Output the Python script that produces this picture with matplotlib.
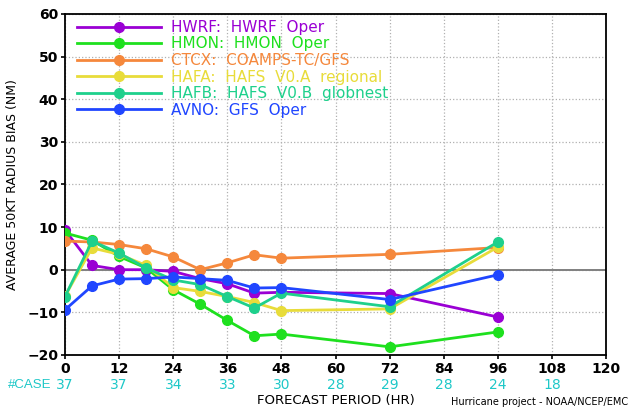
import numpy as np
import matplotlib.pyplot as plt

# forecast hours and bias values (NM) per model
hours = [0, 6, 12, 18, 24, 30, 36, 42, 48, 72, 96]
hwrf = [9.3, 1.0, 0.0, 0.0, -0.4, -2.1, -3.3, -5.5, -5.3, -5.6, -11.1]
hmon = [8.6, 6.9, 3.1, 0.4, -4.7, -8.1, -11.9, -15.5, -15.1, -18.1, -14.6]
ctcx = [6.7, 6.5, 5.9, 4.9, 3.0, 0.0, 1.6, 3.5, 2.7, 3.6, 5.2]
hafa = [-6.2, 5.1, 3.6, 1.0, -4.2, -5.1, -6.3, -7.7, -9.6, -9.2, 5.3]
hafb = [-6.3, 6.7, 3.9, 0.4, -2.4, -3.5, -6.3, -9.0, -5.5, -8.7, 6.5]
avno = [-9.4, -3.8, -2.2, -2.1, -1.7, -2.1, -2.5, -4.3, -4.2, -7.0, -1.2]

labels = ['HWRF:  HWRF  Oper', 'HMON:  HMON  Oper', 'CTCX:  COAMPS-TC/GFS',
          'HAFA:  HAFS  V0.A  regional', 'HAFB:  HAFS  V0.B  globnest', 'AVNO:  GFS  Oper']
colors = ['#9a00d4', '#1ee01e', '#f5883c', '#e8dc3a', '#1ed08c', '#2046ff']

case_hours = [0, 12, 24, 36, 48, 60, 72, 84, 96, 108]
case_counts = [37, 37, 34, 33, 30, 28, 29, 28, 24, 18]

fig = plt.figure(figsize=(6.28, 4.08), dpi=100)
ax = fig.add_axes([0.1035, 0.130, 0.8615, 0.836])

series = [hwrf, hmon, ctcx, hafa, hafb, avno]
for vals, lab, c in zip(series, labels, colors):
    ax.plot(hours, vals, '-o', color=c, lw=2.0, ms=7, label=lab, zorder=3)

ax.axhline(0, color='#808080', lw=1.4, zorder=2)
ax.set_xlim(0, 120)
ax.set_ylim(-20, 60)
ax.set_xticks(range(0, 121, 12))
ax.set_yticks(range(-20, 61, 10))
ax.grid(True, ls=':', color='#b0b0b0', lw=0.9)
ax.tick_params(direction='out', length=3, width=1.2, labelsize=10, pad=2)
for t in ax.get_xticklabels() + ax.get_yticklabels():
    t.set_fontweight('bold')
for s in ax.spines.values():
    s.set_linewidth(1.3)

ax.set_ylabel('AVERAGE 50KT RADIUS BIAS (NM)', fontsize=9, labelpad=6)
ax.set_xlabel('FORECAST PERIOD (HR)', fontsize=9.5, labelpad=13)

# number of verifying cases under each tick
for h, n in zip(case_hours, case_counts):
    ax.text(h, -27.0, str(n), color='#1ec8c8', fontsize=10, ha='center', va='center')
ax.text(-7.8, -27.0, '#CASE', color='#1ec8c8', fontsize=9.5, ha='center', va='center',
        family='Liberation Sans')

leg = ax.legend(loc='upper left', bbox_to_anchor=(0.0, 1.018), frameon=False,
                handlelength=5.5, handletextpad=0.65, labelspacing=0.1,
                fontsize=11, labelcolor='linecolor', borderpad=0.3)

fig.text(0.718, 0.008, 'Hurricane project - NOAA/NCEP/EMC', fontsize=7, ha='left')

fig.savefig('out.png', dpi=100)
